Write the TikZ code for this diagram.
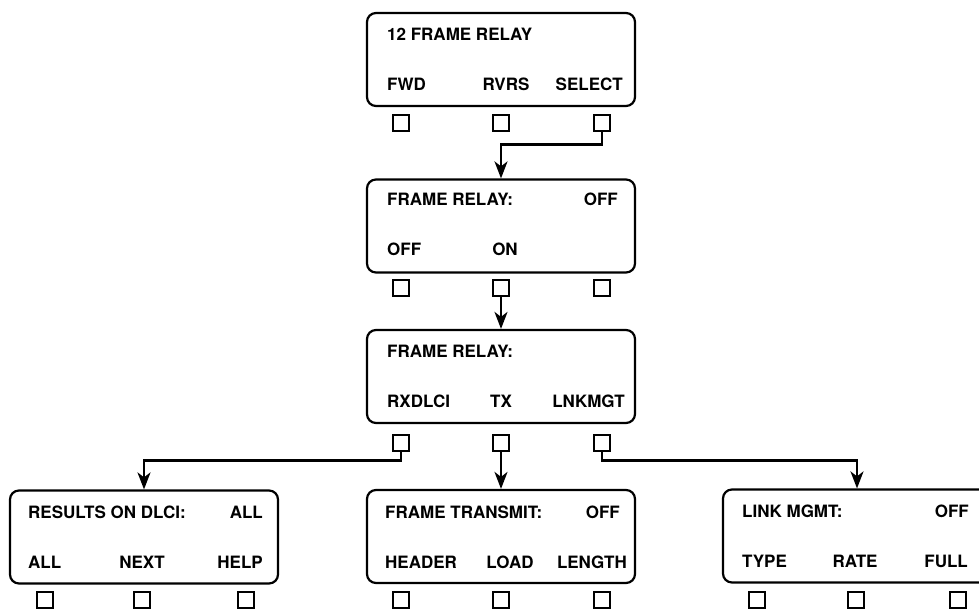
\documentclass[tikz,border=0pt]{standalone}
\usepackage{fontspec}
\setmainfont{TeX Gyre Heros}
\usetikzlibrary{arrows.meta,positioning}
\tikzstyle{menu} = [draw, line width=2.2pt, rounded corners=9pt, minimum width=268pt, minimum height=93pt]
\tikzstyle{key} = [draw, line width=2.2pt, minimum size=16.5pt, inner sep=0pt]
\tikzstyle{arrow} = [line width=2.3pt, -{Stealth[length=17pt,width=13pt,inset=5pt]}]
\tikzstyle{txt} = [inner sep=0pt, font=\bfseries\fontsize{17}{20}\selectfont]

\begin{document}
\begin{tikzpicture}[x=1pt, y=-1pt]
    \useasboundingbox (0,0) rectangle (979,610);
    \clip (0,0) rectangle (979,610);
    % display windows
    \node[menu] (relay) at (501,59.5) {};
    \node[menu] (onoff) at (501,226) {};
    \node[menu] (frsel) at (501,376.5) {};
    \node[menu] (rxdlci) at (144,537) {};
    \node[menu] (tx) at (501,536.5) {};
    \node[menu] (lnkmgt) at (857,536) {};
    % soft keys
    \node[key] (k11) at (401,123) {};
    \node[key] (k12) at (501,123) {};
    \node[key] (k13) at (602,123) {};
    \node[key] (k21) at (401,288) {};
    \node[key] (k22) at (501,288) {};
    \node[key] (k23) at (602,288) {};
    \node[key] (k31) at (401,443) {};
    \node[key] (k32) at (501,443) {};
    \node[key] (k33) at (602,443) {};
    \node[key] (k41) at (45,600) {};
    \node[key] (k42) at (142,600) {};
    \node[key] (k43) at (246,600) {};
    \node[key] (k51) at (401,600) {};
    \node[key] (k52) at (501,600) {};
    \node[key] (k53) at (602,600) {};
    \node[key] (k61) at (757,600) {};
    \node[key] (k62) at (856,600) {};
    \node[key] (k63) at (958,600) {};
    % window texts
    \node[txt, anchor=west] (t11) at (387,34) {12 FRAME RELAY};
    \node[txt, anchor=west] (t12) at (387,84) {FWD};
    \node[txt] (t13) at (506,84) {RVRS};
    \node[txt, anchor=east] (t14) at (623,84) {SELECT};
    \node[txt, anchor=west] (t21) at (387,199) {FRAME RELAY:};
    \node[txt, anchor=east] (t22) at (618,199) {OFF};
    \node[txt, anchor=west] (t23) at (387,249) {OFF};
    \node[txt] (t24) at (505,249) {ON};
    \node[txt, anchor=west] (t31) at (387,351) {FRAME RELAY:};
    \node[txt, anchor=west] (t32) at (387,401) {RXDLCI};
    \node[txt] (t33) at (501,401) {TX};
    \node[txt, anchor=east] (t34) at (625,401) {LNKMGT};
    \node[txt, anchor=west] (t41) at (28,512) {RESULTS ON DLCI:};
    \node[txt, anchor=east] (t42) at (263,512) {ALL};
    \node[txt, anchor=west] (t43) at (28,562) {ALL};
    \node[txt] (t44) at (142,562) {NEXT};
    \node[txt, anchor=east] (t45) at (263,562) {HELP};
    \node[txt, anchor=west] (t51) at (385,512) {FRAME TRANSMIT:};
    \node[txt, anchor=east] (t52) at (620,512) {OFF};
    \node[txt, anchor=west] (t53) at (385,562) {HEADER};
    \node[txt] (t54) at (510,562) {LOAD};
    \node[txt, anchor=east] (t55) at (627,562) {LENGTH};
    \node[txt, anchor=west] (t61) at (742,511) {LINK MGMT:};
    \node[txt, anchor=east] (t62) at (969,511) {OFF};
    \node[txt, anchor=west] (t63) at (742,561) {TYPE};
    \node[txt] (t64) at (855,561) {RATE};
    \node[txt, anchor=east] (t65) at (968,561) {FULL};
    % key presses
    \draw[arrow] (k13.south) -- ++(0,12) -| (onoff.north);
    \draw[arrow] (k22.south) -- (frsel.north);
    \draw[arrow] (k31.south) -- ++(0,8) -| (rxdlci.north);
    \draw[arrow] (k32.south) -- (tx.north);
    \draw[arrow] (k33.south) -- ++(0,8) -| (lnkmgt.north);
\end{tikzpicture}
\end{document}
